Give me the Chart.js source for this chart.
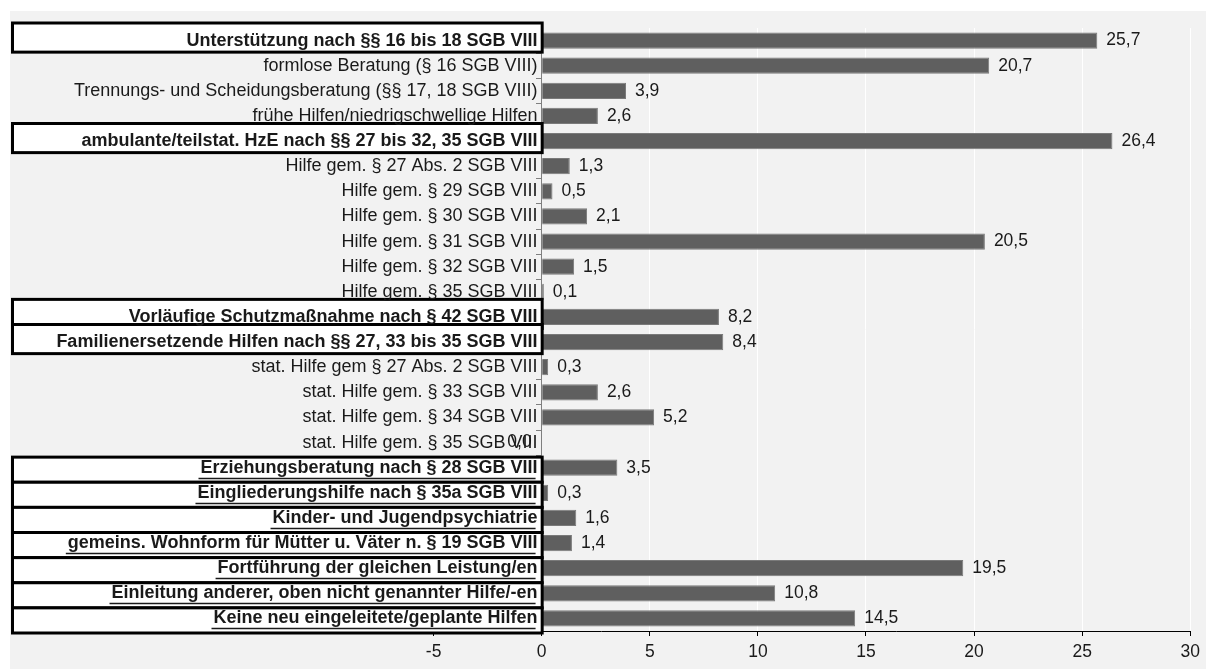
<!DOCTYPE html>
<html>
<head>
<meta charset="utf-8">
<script src="https://cdn.jsdelivr.net/npm/chart.js@4.4.1/dist/chart.umd.min.js"></script>
<style>
  html, body { margin: 0; padding: 0; background: #ffffff; }
  #wrap { width: 1206px; height: 669px; position: relative; }
</style>
</head>
<body>
<div id="wrap"><canvas id="c" width="1206" height="669"></canvas></div>
<script>
const categories = [
  "Unterstützung nach §§ 16 bis 18 SGB VIII",
  "formlose Beratung (§ 16 SGB VIII)",
  "Trennungs- und Scheidungsberatung (§§ 17, 18 SGB VIII)",
  "frühe Hilfen/niedrigschwellige Hilfen",
  "ambulante/teilstat. HzE nach §§ 27 bis 32, 35 SGB VIII",
  "Hilfe gem. § 27 Abs. 2 SGB VIII",
  "Hilfe gem. § 29 SGB VIII",
  "Hilfe gem. § 30 SGB VIII",
  "Hilfe gem. § 31 SGB VIII",
  "Hilfe gem. § 32 SGB VIII",
  "Hilfe gem. § 35 SGB VIII",
  "Vorläufige Schutzmaßnahme nach § 42 SGB VIII",
  "Familienersetzende Hilfen nach §§ 27, 33 bis 35 SGB VIII",
  "stat. Hilfe gem § 27 Abs. 2 SGB VIII",
  "stat. Hilfe gem. § 33 SGB VIII",
  "stat. Hilfe gem. § 34 SGB VIII",
  "stat. Hilfe gem. § 35 SGB VIII",
  "Erziehungsberatung nach § 28 SGB VIII",
  "Eingliederungshilfe nach § 35a SGB VIII",
  "Kinder- und Jugendpsychiatrie",
  "gemeins. Wohnform für Mütter u. Väter n. § 19 SGB VIII",
  "Fortführung der gleichen Leistung/en",
  "Einleitung anderer, oben nicht genannter Hilfe/-en",
  "Keine neu eingeleitete/geplante Hilfen"
];
const values = [25.7, 20.7, 3.9, 2.6, 26.4, 1.3, 0.5, 2.1, 20.5, 1.5, 0.1, 8.2, 8.4, 0.3, 2.6, 5.2, 0.0, 3.5, 0.3, 1.6, 1.4, 19.5, 10.8, 14.5];
const boxedUpperRows = [0, 4, 11, 12];
const boxedLowerRows = [17, 18, 19, 20, 21, 22, 23];
const xTickValues = [-5, 0, 5, 10, 15, 20, 25, 30];

const FONT_FAMILY = '"Liberation Sans", Arial, sans-serif';
const LABEL_SIZE = 18;
const VALUE_SIZE = 17.5;
const TICK_LEN = 5;
const LABEL_AXIS_POS = -0.19;   // label column sits a few px left of the zero line
const boldRows = boxedUpperRows.concat(boxedLowerRows);

function fmt(v) { return v.toFixed(1).replace('.', ','); }

const bgPlugin = {
  id: 'bg',
  beforeDraw(chart) {
    const ctx = chart.ctx;
    ctx.save();
    ctx.fillStyle = '#ffffff';
    ctx.fillRect(0, 0, chart.width, chart.height);
    ctx.fillStyle = '#f2f2f2';
    ctx.fillRect(10, 11, chart.width - 10, chart.height - 11);
    ctx.restore();
  }
};

function rowBounds(chart, i) {
  const ys = chart.scales.y;
  const h = ys.height / categories.length;
  const c = ys.getPixelForValue(i);
  return { top: c - h / 2, bottom: c + h / 2, center: c };
}

const overlayPlugin = {
  id: 'overlay',
  afterDatasetsDraw(chart) {
    const ctx = chart.ctx;
    const xs = chart.scales.x;
    const x0 = xs.getPixelForValue(0);
    const meta = chart.getDatasetMeta(0);
    // data labels
    ctx.save();
    ctx.font = VALUE_SIZE + 'px ' + FONT_FAMILY;
    ctx.fillStyle = '#1a1a1a';
    ctx.textBaseline = 'middle';
    meta.data.forEach((bar, i) => {
      const v = values[i];
      if (v === 0) {
        ctx.textAlign = 'right';
        ctx.fillText(fmt(v), x0 - 10, bar.y);
      } else {
        ctx.textAlign = 'left';
        ctx.fillText(fmt(v), bar.x + 9, bar.y);
      }
    });
    ctx.restore();
    // label boxes
    ctx.save();
    ctx.lineWidth = 3;
    ctx.strokeStyle = '#000000';
    ctx.fillStyle = '#ffffff';
    const left = 12.5;
    const right = x0 + 0.5;
    const drawBox = (top, bottom) => {
      ctx.fillRect(left, top, right - left, bottom - top);
      ctx.strokeRect(left, top, right - left, bottom - top);
    };
    boxedUpperRows.forEach(i => {
      const b = rowBounds(chart, i);
      drawBox(b.top - 5, b.bottom - 1);
    });
    boxedLowerRows.forEach(i => {
      const b = rowBounds(chart, i);
      drawBox(b.top + 2, b.bottom + 2);
    });
    ctx.restore();
  },
  afterDraw(chart) {
    const ctx = chart.ctx;
    const xs = chart.scales.x;
    const rightX = xs.getPixelForValue(LABEL_AXIS_POS) - 2;
    ctx.save();
    ctx.font = 'bold ' + LABEL_SIZE + 'px ' + FONT_FAMILY;
    ctx.strokeStyle = '#1a1a1a';
    ctx.lineWidth = 1.3;
    boxedLowerRows.forEach(i => {
      const b = rowBounds(chart, i);
      const w = ctx.measureText(categories[i]).width;
      const y = Math.round(b.center + 10) + 0.5;
      ctx.beginPath();
      ctx.moveTo(rightX - w, y);
      ctx.lineTo(rightX, y);
      ctx.stroke();
    });
    ctx.restore();
  }
};

new Chart(document.getElementById('c'), {
  type: 'bar',
  data: {
    labels: categories,
    datasets: [{
      data: values,
      backgroundColor: '#5f5f5f',
      borderColor: '#7a7a7a',
      borderWidth: 1,
      barPercentage: 0.65,
      categoryPercentage: 1.0
    }]
  },
  options: {
    indexAxis: 'y',
    responsive: false,
    animation: false,
    devicePixelRatio: 1,
    layout: { padding: { left: 12, right: 13, top: 28, bottom: 0 } },
    plugins: {
      legend: { display: false },
      tooltip: { enabled: false }
    },
    scales: {
      x: {
        type: 'linear',
        min: -24.5,
        max: 30,
        afterBuildTicks: (scale) => { scale.ticks = xTickValues.map(v => ({ value: v })); },
        ticks: {
          font: { family: FONT_FAMILY, size: VALUE_SIZE },
          color: '#1a1a1a',
          padding: 6,
          maxRotation: 0,
          autoSkip: false,
          callback: (v) => String(v)
        },
        grid: {
          color: (ctx) => (ctx.tick && ctx.tick.value > 0) ? '#ffffff' : 'rgba(0,0,0,0)',
          tickColor: '#000000',
          tickLength: TICK_LEN,
          lineWidth: 1
        },
        border: { display: true, color: '#000000', width: 1 }
      },
      y: {
        type: 'category',
        position: { x: 0 },
        offset: true,
        afterFit: (scale) => { scale.paddingTop = 0; scale.paddingBottom = 0; },
        ticks: { display: false },
        grid: {
          offset: true,
          drawOnChartArea: false,
          drawTicks: true,
          tickLength: TICK_LEN,
          color: '#7f7f7f'
        },
        border: { display: true, color: '#7f7f7f', width: 1 }
      },
      yLabels: {
        type: 'category',
        labels: categories,
        axis: 'y',
        position: { x: LABEL_AXIS_POS },
        offset: true,
        afterFit: (scale) => { scale.paddingTop = 0; scale.paddingBottom = 0; },
        ticks: {
          z: 1,
          autoSkip: false,
          padding: 0,
          color: '#1a1a1a',
          font: (ctx) => ({
            family: FONT_FAMILY,
            size: LABEL_SIZE,
            weight: boldRows.includes(ctx.index) ? 'bold' : 'normal'
          })
        },
        grid: { display: false, drawTicks: false },
        border: { display: false }
      }
    }
  },
  plugins: [bgPlugin, overlayPlugin]
});
</script>
</body>
</html>
